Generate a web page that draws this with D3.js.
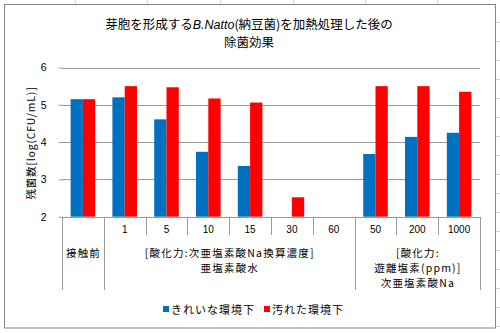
<!DOCTYPE html>
<html><head><meta charset="utf-8">
<script src="https://cdn.jsdelivr.net/npm/d3@7"></script>
<style>
html,body{margin:0;padding:0;background:#fff;}
svg{display:block;font-family:"Noto Sans CJK JP","Noto Sans",sans-serif;}
</style></head>
<body>
<svg id="c" width="500" height="333"></svg>
<script>
// ---- data ----
const categories = ["接触前","1","5","10","15","30","60","50","200","1000"];
const tickLabels = ["","1","5","10","15","30","60","50","200","1000"];
const seriesNames = ["きれいな環境下","汚れた環境下"];
const cleanValues = [5.15,5.20,4.61,3.74,3.36,null,null,3.68,4.14,4.25];
const dirtyValues = [5.15,5.50,5.47,5.17,5.06,2.52,null,5.50,5.50,5.35];
const groupLabels = [["接触前"],["[酸化力:次亜塩素酸Na換算濃度]","亜塩素酸水"],["[酸化力:","遊離塩素(ppm)]","次亜塩素酸Na"]];
const groupStarts = [0,1,7];
const groupEnds = [1,7,10];
const yTicks = [2,3,4,5,6];
const colors = ["#0070C0","#FF0000"];

const svg = d3.select("#c");

// spreadsheet cell lines outside chart
const sheet = svg.append("g").attr("stroke","#d4d4d4").attr("stroke-width",1);
[75,147,220,293,365,437].forEach(x=>sheet.append("line").attr("x1",x+0.5).attr("x2",x+0.5).attr("y1",0).attr("y2",4));
d3.range(22,330,19).forEach(y=>sheet.append("line").attr("x1",496).attr("x2",500).attr("y1",y+0.5).attr("y2",y+0.5));

// chart border
svg.append("rect").attr("x",4.5).attr("y",4.5).attr("width",491).attr("height",323.5)
  .attr("fill","#fff").attr("stroke","#868686").attr("stroke-width",1);

// title
const title = svg.append("text").attr("x",249).attr("y",29).attr("text-anchor","middle")
  .attr("font-size",12.5).attr("fill","#000");
title.append("tspan").text("芽胞を形成する");
title.append("tspan").attr("font-style","italic").attr("font-family","Liberation Sans, Arial, sans-serif").text("B.Natto");
title.append("tspan").text("(納豆菌)を加熱処理した後の");
svg.append("text").attr("x",249).attr("y",47).attr("text-anchor","middle")
  .attr("font-size",12.5).attr("fill","#000").text("除菌効果");

// scales
const x0 = d3.scaleBand().domain(d3.range(categories.length)).range([62,480]).paddingInner(0).paddingOuter(0);
const x1 = d3.scaleBand().domain([0,1]).range([0,x0.bandwidth()]).paddingInner(0).paddingOuter(0.7);
const y = d3.scaleLinear().domain([2,6]).range([216.7,67.5]);

// gridlines
svg.append("g").selectAll("line").data(yTicks.filter(t=>t>2)).join("line")
  .attr("x1",62).attr("x2",480).attr("y1",d=>Math.round(y(d))+0.5).attr("y2",d=>Math.round(y(d))+0.5)
  .attr("stroke","#9a9a9a").attr("stroke-width",1);

// y axis
const yAxis = svg.append("g").attr("transform","translate(62.5,0)")
  .call(d3.axisLeft(y).tickValues(yTicks).tickSize(4).tickPadding(12).tickFormat(d3.format("d")));
yAxis.select(".domain").remove();
yAxis.selectAll(".tick line").attr("stroke","#9a9a9a");
yAxis.selectAll(".tick text").attr("font-size",10.5).attr("font-family","Liberation Sans, Arial, sans-serif").attr("fill","#000");

// y label
svg.append("text").attr("transform","translate(35,143) rotate(-90)").attr("text-anchor","middle")
  .attr("font-size",10.5).attr("letter-spacing",0.8).attr("fill","#000").text("残菌数[log(CFU/mL)]");

// bars
const series = [cleanValues, dirtyValues];
series.forEach((vals,si)=>{
  svg.append("g").selectAll("rect").data(vals.map((v,i)=>({v,i})).filter(d=>d.v!=null)).join("rect")
    .attr("x",d=>x0(d.i)+x1(si)).attr("width",x1.bandwidth())
    .attr("y",d=>y(d.v)).attr("height",d=>y(2)-y(d.v))
    .attr("fill",colors[si]);
});

// x axis line
svg.append("line").attr("x1",62).attr("x2",480).attr("y1",217.5).attr("y2",217.5).attr("stroke","#9a9a9a");

// category dividers
const boundaries = d3.range(categories.length+1);
svg.append("g").selectAll("line").data(boundaries).join("line")
  .attr("x1",d=>Math.round(d<categories.length?x0(d):480)+0.5)
  .attr("x2",d=>Math.round(d<categories.length?x0(d):480)+0.5)
  .attr("y1",217).attr("y2",d=>(groupStarts.includes(d)||d===categories.length)?290:235)
  .attr("stroke","#9a9a9a");

// tick labels
svg.append("g").selectAll("text").data(tickLabels).join("text")
  .attr("x",(d,i)=>x0(i)+x0.bandwidth()/2).attr("y",233).attr("text-anchor","middle")
  .attr("font-size",10).attr("font-family","Liberation Sans, Arial, sans-serif").attr("fill","#000").text(d=>d);

// group labels
groupLabels.forEach((lines,gi)=>{
  const cx = (x0(groupStarts[gi]) + (groupEnds[gi]<categories.length?x0(groupEnds[gi]):480))/2;
  lines.forEach((t,li)=>{
    svg.append("text").attr("x",cx+0.6).attr("y",257+li*15).attr("text-anchor","middle")
      .attr("font-size",10.5).attr("letter-spacing",1.2).attr("fill","#000").text(t);
  });
});

// legend
const legX = [163,264];
seriesNames.forEach((n,i)=>{
  svg.append("rect").attr("x",legX[i]).attr("y",306).attr("width",6).attr("height",6).attr("fill",colors[i]);
  svg.append("text").attr("x",legX[i]+8).attr("y",313.5).attr("font-size",11).attr("letter-spacing",1).attr("fill","#000").text(n);
});
</script>
</body></html>
